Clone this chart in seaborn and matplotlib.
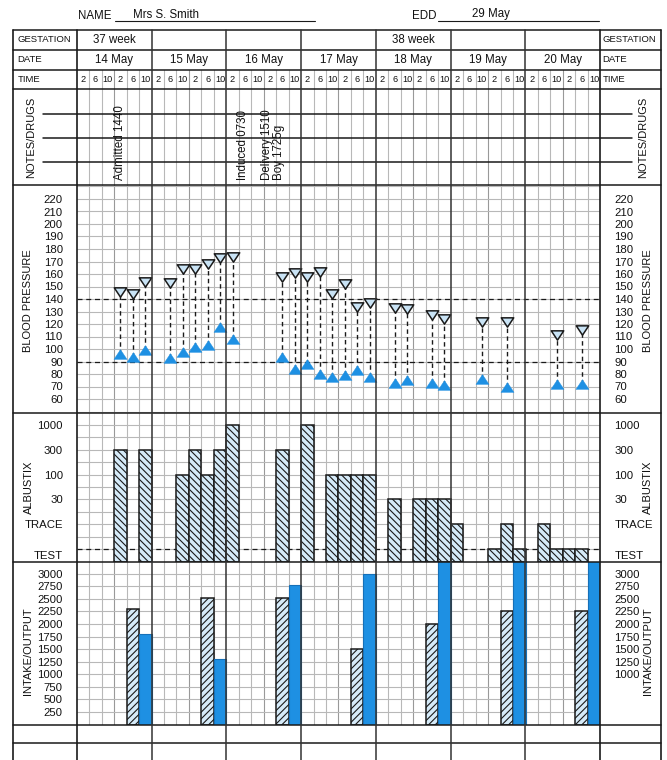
import matplotlib
matplotlib.use("Agg")
import matplotlib.pyplot as plt
from matplotlib.path import Path
import numpy as np
import pandas as pd
import seaborn as sns

# ---------------- data ----------------
name_label = "Mrs S. Smith"
edd_label = "29 May"
days = ["14 May", "15 May", "16 May", "17 May", "18 May", "19 May", "20 May"]
gestation = ["37 week", "", "", "", "38 week", "", ""]
slot_labels = ["2", "6", "10", "2", "6", "10"]

note_cols = [3, 12.8, 15.25]
note_texts = ["Admitted 1440", "Induced 0730", "Delivery 1510\nBoy 1725g"]

bp_cols = [3, 4, 5, 7, 8, 9, 10, 11, 12, 16, 17, 18, 19, 20, 21, 22, 23, 25, 26, 28, 29, 32, 34, 38, 40]
bp_sys = [146, 144, 154, 153, 164, 164, 168, 173, 174, 158, 161, 158, 162, 144, 152, 134, 137, 133, 132,
          127, 124, 122, 122, 111, 115]
bp_dia = [96, 94, 99, 93, 98, 102, 103, 118, 108, 94, 84, 88, 80, 78, 79, 83, 78, 73, 75, 73, 71, 76,
          70, 72, 72]
bp_ticks = list(range(60, 221, 10))

alb_levels = ["TEST", "TRACE", "30", "100", "300", "1000"]
alb_cols = [3, 5, 8, 9, 10, 11, 12, 16, 18, 20, 21, 22, 23, 25, 27, 28, 29, 30, 33, 34, 35, 37, 38, 39, 40]
alb_vals = ["300", "300", "100", "300", "100", "300", "1000", "300", "1000", "100", "100", "100", "100",
            "30", "30", "30", "30", "TRACE", "TEST", "TRACE", "TEST", "TRACE", "TEST", "TEST", "TEST"]

intake_cols = [4, 10, 16, 22, 28, 34, 40]
intake_ml = [2300, 2525, 2525, 1500, 2000, 2250, 2250]
output_cols = [5, 11, 17, 23, 29, 35, 41]
output_ml = [1800, 1300, 2775, 3000, 3250, 3250, 3250]
io_ticks_left = list(range(250, 3001, 250))
io_ticks_right = list(range(1000, 3001, 250))

# ---------------- style ----------------
sns.set_theme(style="white")
plt.rcParams["font.family"] = ["Liberation Sans", "DejaVu Sans"]
plt.rcParams["hatch.linewidth"] = 0.8

BLUE = "#1e90e3"
LIGHT = "#d5eaf8"
GRID = "#b8b8b8"
GRID12 = "#999999"
INK = "#111111"

W, H = 667, 760
fig = plt.figure(figsize=(W / 100, H / 100), dpi=100)
fig.patch.set_facecolor("white")

X0, X1 = 76.7, 600.3
NC = 42
CW = (X1 - X0) / NC
BL, BR = 12.7, 661.0
ROWS = [29.5, 49.5, 69.5, 89.3, 184.5, 412.5, 561.5, 724.5, 743.3]


def col_x(k):
    return X0 + CW * (k + 0.5)


def add_px_axes(y0, y1, z=1):
    return fig.add_axes([X0 / W, 1 - y1 / H, (X1 - X0) / W, (y1 - y0) / H], zorder=z)


def prep(ax, ylim, hlines):
    ax.set_xlim(-0.5, NC - 0.5)
    ax.set_ylim(*ylim)
    for k in range(1, NC):
        if k % 6:
            ax.axvline(k - 0.5, color=GRID12 if k % 3 == 0 else GRID, lw=0.8, zorder=0)
    for v in hlines:
        ax.axhline(v, color=GRID, lw=0.8, zorder=0)
    for s in ax.spines.values():
        s.set_visible(False)
    ax.set_xticks([])
    ax.set_xlabel("")
    ax.set_ylabel("")
    ax.patch.set_alpha(0)
    ax.tick_params(axis="y", left=False, right=False, labelleft=True, labelright=True,
                   labelsize=8.2, pad=4, labelcolor=INK)


# ---------------- blood pressure ----------------
ax_bp = add_px_axes(ROWS[4], ROWS[5])
bp_lo = 60 - (ROWS[5] - 399) / 1.25
bp_hi = 220 + (199 - ROWS[4]) / 1.25
ax_bp.vlines(bp_cols, bp_dia, bp_sys, colors="k", linestyles=(0, (3.2, 2.4)), lw=1.0, zorder=2)
for ref in (140, 90):
    ax_bp.axhline(ref, color="k", lw=0.9, ls=(0, (4, 3)), zorder=1.5)
sys_marker = Path([(-1, 0.75), (1, 0.75), (0, -0.75), (-1, 0.75)], closed=True)
dia_marker = Path([(-1, -0.75), (1, -0.75), (0, 0.75), (-1, -0.75)], closed=True)
sns.scatterplot(x=bp_cols, y=bp_sys, marker=sys_marker, s=80, color="#c9e3f5",
                edgecolor="#1a1a1a", linewidth=1.1, ax=ax_bp, zorder=3)
sns.scatterplot(x=bp_cols, y=bp_dia, marker=dia_marker, s=88, color=BLUE,
                edgecolor=BLUE, linewidth=0.3, ax=ax_bp, zorder=3)
prep(ax_bp, (bp_lo, bp_hi), range(50, 231, 10))
ax_bp.set_yticks(bp_ticks)

# ---------------- albustix ----------------
ax_alb = add_px_axes(ROWS[5], ROWS[6])
alb_pos = {lvl: 1 + 2 * i for i, lvl in enumerate(alb_levels)}
alb_df = pd.DataFrame({"col": alb_cols, "level": alb_vals})
alb_df["height"] = alb_df["level"].map(alb_pos)
ax_alb.axhline(alb_pos["TEST"], color="k", lw=0.9, ls=(0, (4, 3)), zorder=1.5)
sns.barplot(data=alb_df, x="col", y="height", order=list(range(NC)), width=1.0, color=LIGHT,
            saturation=1, edgecolor="k", linewidth=1.1, hatch="\\\\\\\\\\", errorbar=None,
            ax=ax_alb, zorder=2)
prep(ax_alb, (0, 12), range(1, 12))
ax_alb.set_yticks([0.5] + [alb_pos[l] for l in alb_levels[1:]])
ax_alb.set_yticklabels(alb_levels)

# ---------------- intake / output ----------------
ax_io = add_px_axes(ROWS[6], ROWS[7])
io_top = (ROWS[7] - ROWS[6]) / 12.57 * 250
sns.barplot(x=intake_cols, y=intake_ml, order=list(range(NC)), width=1.0, color=LIGHT, saturation=1,
            edgecolor="k", linewidth=1.1, hatch="/////", errorbar=None, ax=ax_io, zorder=2)
sns.barplot(x=output_cols, y=output_ml, order=list(range(NC)), width=1.0, color=BLUE, saturation=1,
            edgecolor="#1670b8", linewidth=0.8, errorbar=None, ax=ax_io, zorder=2)
prep(ax_io, (0, io_top), range(250, 3001, 250))
ax_io.set_yticks(io_ticks_left)
tw = ax_io.twinx()
tw.set_ylim(0, io_top)
tw.set_yticks(io_ticks_right)
for s in tw.spines.values():
    s.set_visible(False)
tw.tick_params(axis="y", left=False, right=False, labelleft=False, labelright=True,
               labelsize=8.2, pad=4, labelcolor=INK)
tw.grid(False)
ax_io.tick_params(axis="y", left=False, right=False, labelleft=True, labelright=False)

# ---------------- overlay: form structure and text ----------------
ov = fig.add_axes([0, 0, 1, 1], zorder=10)
ov.set_xlim(0, W)
ov.set_ylim(H, 0)
ov.axis("off")
ov.patch.set_alpha(0)

# gray separators in time row and notes section
for k in range(1, NC):
    if k % 6:
        xk = X0 + CW * k
        ov.plot([xk, xk], [ROWS[2], ROWS[4]], color=GRID12 if k % 3 == 0 else GRID, lw=0.8, zorder=1)
# note lines
for yl in (114.3, 137.7, 161.7):
    ov.plot([43.3, 631.7], [yl, yl], color="k", lw=1.1, zorder=3)
# row lines
for yr in ROWS:
    ov.plot([BL, BR], [yr, yr], color="k", lw=1.1, zorder=4)
# outer borders and label columns
for xb in (BL, BR, X0, X1):
    ov.plot([xb, xb], [ROWS[0], H], color="k", lw=1.2, zorder=4)
for d in range(1, 7):
    xd = X0 + 6 * CW * d
    ov.plot([xd, xd], [ROWS[0], H], color="#333333", lw=1.1, zorder=4)

# header
ov.text(78.3, 16, "NAME", fontsize=8.3, va="center", ha="left", color=INK)
ov.plot([115, 315], [20.7, 20.7], color="k", lw=0.8)
ov.text(133, 14.5, name_label, fontsize=8.3, va="center", ha="left", color=INK)
ov.text(411.7, 16, "EDD", fontsize=8.3, va="center", ha="left", color=INK)
ov.plot([438, 599], [20.7, 20.7], color="k", lw=0.8)
ov.text(471.7, 14.5, edd_label, fontsize=8.3, va="center", ha="left", color=INK)

for yrow, lab in ((39.5, "GESTATION"), (59.5, "DATE"), (79.4, "TIME")):
    ov.text(17.5, yrow, lab, fontsize=6.8, va="center", ha="left", color=INK)
    ov.text(602.5, yrow, lab, fontsize=6.8, va="center", ha="left", color=INK)

for d in range(7):
    xc = X0 + 6 * CW * (d + 0.5)
    if gestation[d]:
        ov.text(xc, 39.8, gestation[d], fontsize=8.3, va="center", ha="center", color=INK)
    ov.text(xc, 59.8, days[d], fontsize=8.3, va="center", ha="center", color=INK)
for k in range(NC):
    ov.text(col_x(k), 79.6, slot_labels[k % 6], fontsize=6.6, va="center", ha="center", color=INK)

# notes
for c, t in zip(note_cols, note_texts):
    ov.text(col_x(c), 180, t, rotation=90, fontsize=8.3, ha="center", va="bottom",
            linespacing=1.05, color=INK, multialignment="left")

# section labels
sections = [("NOTES/DRUGS", 137.5, 31, 643), ("BLOOD PRESSURE", 301, 28.5, 648),
            ("ALBUSTIX", 487.5, 28.5, 648), ("INTAKE/OUTPUT", 651, 28.5, 648)]
for lab, yc, xl, xr in sections:
    ov.text(xl, yc, lab, rotation=90, fontsize=8, ha="center", va="center", color=INK)
    ov.text(xr, yc, lab, rotation=90, fontsize=8, ha="center", va="center", color=INK)

fig.savefig("out.png", dpi=100, facecolor="white")
